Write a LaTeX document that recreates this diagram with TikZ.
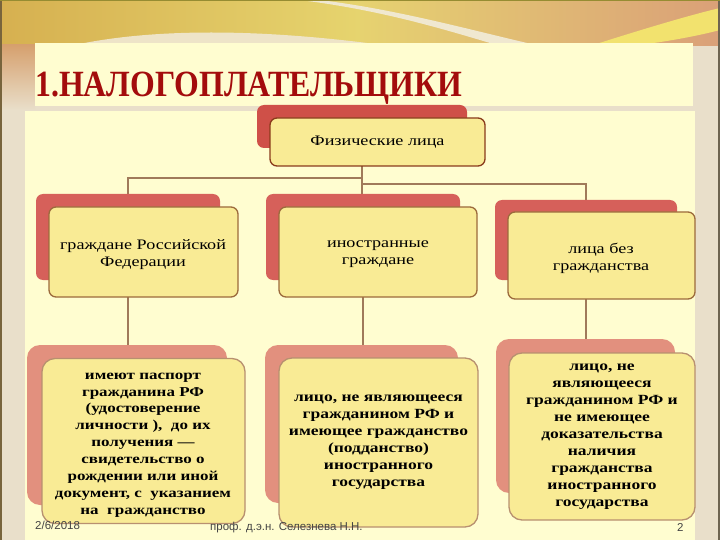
\documentclass[tikz,border=0pt]{standalone}
\usepackage{fontspec}
\setmainfont{Liberation Serif}
\newfontfamily\boxfont[FakeStretch=1.25]{Liberation Serif}
\newfontfamily\titlefont{Liberation Serif}
\newfontfamily\footfont{Liberation Sans}
\pgfdeclarelayer{bg}
\pgfsetlayers{bg,main}
\definecolor{beige}{HTML}{E9DFCA}
\definecolor{cream}{HTML}{FFFDD0}
\definecolor{titlered}{HTML}{A30C0C}
\definecolor{redA}{HTML}{D6605A}
\definecolor{redTop}{HTML}{CF5048}
\definecolor{salmon}{HTML}{E2907E}
\definecolor{yel}{HTML}{F9EB95}
\definecolor{brownA}{HTML}{9C6A3C}
\definecolor{brownTop}{HTML}{8A3B1B}
\definecolor{brownB}{HTML}{B89070}
\definecolor{conn}{HTML}{A07A5A}
\definecolor{footgray}{HTML}{444444}
\definecolor{bandA}{RGB}{214,176,80}
\definecolor{bandB}{RGB}{230,212,110}
\definecolor{bandC}{RGB}{230,210,112}
\definecolor{bandD}{RGB}{218,160,120}
\definecolor{edgeO}{RGB}{214,160,110}
\definecolor{swA}{RGB}{240,232,208}
\definecolor{swB}{RGB}{238,228,200}
\definecolor{swC}{RGB}{242,226,110}
\definecolor{frameL}{RGB}{120,100,60}
\definecolor{frameR}{RGB}{110,100,80}
\definecolor{frameT}{RGB}{150,140,50}
\tikzset{
  backbox/.style={rectangle, rounded corners=7pt, fill=redA, inner sep=0pt},
  frontbox/.style={rectangle, rounded corners=7pt, fill=yel, draw=brownA, line width=1.3pt, align=center, inner sep=2pt, font=\boxfont\fontsize{14.5}{17}\selectfont},
  smalltext/.style={align=center, inner sep=0pt, font=\boxfont\fontsize{14.5}{17}\selectfont},
  backbig/.style={rectangle, rounded corners=13pt, fill=salmon, inner sep=0pt},
  frontbig/.style={rectangle, rounded corners=13pt, fill=yel, draw=brownB, line width=1.3pt, align=center, inner sep=2pt, font=\boxfont\bfseries\fontsize{14}{17}\selectfont},
  bigtext/.style={align=center, inner sep=0pt, font=\boxfont\bfseries\fontsize{13.6}{16.9}\selectfont},
  connector/.style={draw=conn, line width=1.3pt},
  foot/.style={font=\footfont\fontsize{11.5}{12}\selectfont, text=footgray, anchor=base west, inner sep=0pt}
}
\begin{document}
\begin{tikzpicture}[x=1pt,y=-1pt]
\useasboundingbox (0,0) rectangle (720,540);
\begin{pgfonlayer}{bg}
  \fill[beige] (0,0) rectangle (720,540);
  % top band
  \shade[left color=bandA, right color=bandB] (0,0) rectangle (360,46);
  \shade[left color=bandC, right color=bandD] (360,0) rectangle (720,46);
  \shade[top color=edgeO, bottom color=beige] (0,45) rectangle (35,110);
  % swooshes
  \fill[swA] (320,0) .. controls (400,10) and (470,30) .. (540,46) -- (500,46) .. controls (440,28) and (380,10) .. (300,0) -- cycle;
  \fill[swB] (70,46) .. controls (150,28) and (260,28) .. (390,46) -- cycle;
  \fill[swC] (590,46) .. controls (640,30) and (690,15) .. (720,8) -- (720,30) .. controls (690,38) and (650,44) .. (630,46) -- cycle;
  % panels
  \fill[cream] (35,43) rectangle (693,106);
  \fill[cream] (25,111) rectangle (695,540);
  % frame
  \draw[frameL, line width=1.5pt] (0.75,0) -- (0.75,540);
  \draw[frameR, line width=2.5pt] (718.75,0) -- (718.75,540);
  \draw[frameT, line width=1pt] (0,0.5) -- (720,0.5);
\end{pgfonlayer}

% title
\node[anchor=base west, font=\titlefont\bfseries\fontsize{37}{37}\selectfont, text=titlered, xscale=0.86, inner sep=0pt] (title) at (35,97) {1.НАЛОГОПЛАТЕЛЬЩИКИ};

% top box
\node[backbox, fill=redTop, minimum width=210pt, minimum height=43pt] (tb) at (362,126.5) {};
\node[frontbox, draw=brownTop, minimum width=215pt, minimum height=48pt] (tf) at (377.5,142) {Физические лица};

% row 1
\node[backbox, minimum width=184pt, minimum height=86pt] (ab) at (128,237) {};
\node[frontbox, minimum width=189pt, minimum height=90pt] (af) at (143.5,252) {};
\node[smalltext] (at) at (143,254.5) {граждане Российской\\Федерации};
\node[backbox, minimum width=194pt, minimum height=86pt] (bb) at (363,237) {};
\node[frontbox, minimum width=198pt, minimum height=90pt] (bf) at (378,252) {};
\node[smalltext] (bt) at (378,254.5) {иностранные\\граждане};
\node[backbox, minimum width=182pt, minimum height=80pt] (cb) at (586,240) {};
\node[frontbox, minimum width=187pt, minimum height=87pt] (cf) at (601.5,255.5) {};
\node[smalltext] (ct) at (601,258.5) {лица без\\гражданства};

% row 2
\node[backbig, minimum width=200pt, minimum height=160pt] (db) at (127,425) {};
\node[frontbig, minimum width=203pt, minimum height=165pt] (df) at (143.5,441) {};
\node[bigtext] (dt) at (143,445) {имеют паспорт\\гражданина РФ\\(удостоверение\\личности ),\ \ до их\\получения —\\свидетельство о\\рождении или иной\\документ, с\ \ указанием\\на\ \ гражданство};
\node[backbig, minimum width=193pt, minimum height=158pt] (eb) at (361.5,424) {};
\node[frontbig, minimum width=199pt, minimum height=169pt] (ef) at (378.5,442.5) {лицо, не являющееся\\гражданином РФ и\\имеющее гражданство\\(подданство)\\иностранного\\государства};
\node[backbig, minimum width=179pt, minimum height=154pt] (fb) at (585.5,416) {};
\node[frontbig, minimum width=186pt, minimum height=167pt] (ff) at (602,436.5) {лицо, не\\являющееся\\гражданином РФ и\\не имеющее\\доказательства\\наличия\\гражданства\\иностранного\\государства};

% footer
\node[foot] (date) at (35,529) {2/6/2018};
\node[foot] (author) at (210,530) {проф. д.э.н. Селезнева Н.Н.};
\node[foot] (page) at (677,531) {2};

% connectors
\coordinate (j1) at (362,178);
\coordinate (j2) at (362,184);
\begin{pgfonlayer}{bg}
  \draw[connector] (tb.south) -- (tb.south |- bb.north);
  \draw[connector] (j1) -| (ab.north);
  \draw[connector] (j2) -| (cb.north);
  \draw[connector] (ab.south) -- (ab.south |- db.north);
  \draw[connector] (bb.south) -- (bb.south |- eb.north);
  \draw[connector] (cb.south) -- (cb.south |- fb.north);
\end{pgfonlayer}
\end{tikzpicture}
\end{document}
